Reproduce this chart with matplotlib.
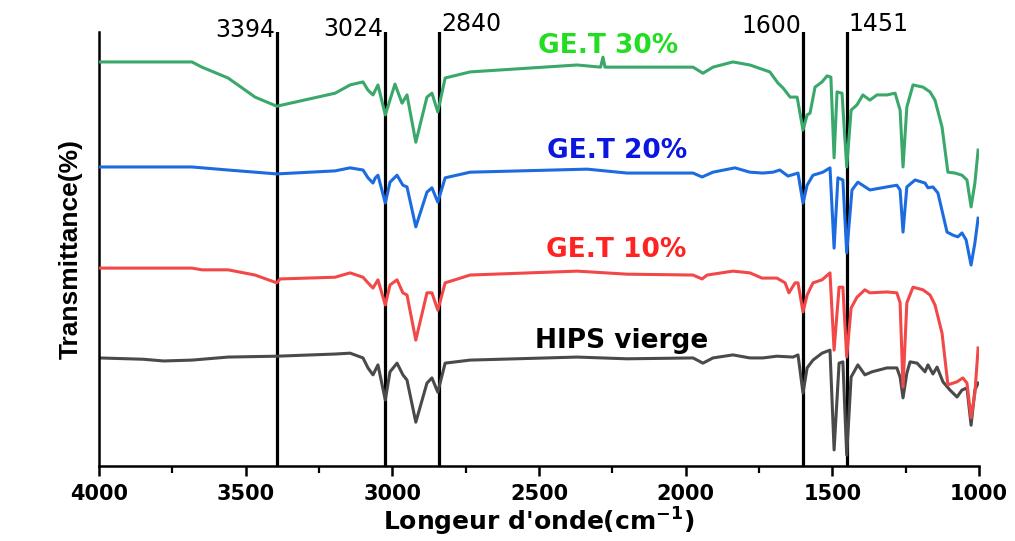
import matplotlib.pyplot as plt
from matplotlib.ticker import MultipleLocator

# Wavenumbers (cm-1) and transmittance (arbitrary offset units)
wn_30 = [4000, 3683, 3649, 3560, 3468, 3394, 3195, 3144, 3100, 3083, 3066, 3049, 3024,
         2991, 2967, 2950, 2920, 2882, 2865, 2845, 2820, 2735, 2370, 2290, 2282, 2275,
         2200, 1975, 1941, 1907, 1839, 1781, 1713, 1685, 1668, 1644, 1620, 1600, 1586,
         1576, 1559, 1535, 1518, 1505, 1494, 1484, 1467, 1451, 1436, 1416, 1396, 1372,
         1348, 1314, 1286, 1269, 1259, 1246, 1225, 1191, 1167, 1150, 1126, 1106, 1082,
         1058, 1041, 1027, 1014, 1003]
t_30 = [93.1, 93.1, 91.9, 89.4, 85.0, 82.9, 85.9, 87.8, 88.5, 86.6, 85.5, 87.8, 80.9,
        88.0, 83.6, 85.5, 74.6, 85.0, 85.9, 81.6, 89.4, 90.8, 92.4, 91.9, 94.2, 91.9,
        91.9, 91.9, 90.5, 91.9, 93.1, 92.4, 90.8, 88.2, 87.1, 85.0, 85.0, 77.4, 80.9,
        81.3, 87.3, 88.5, 89.9, 89.6, 71.0, 86.2, 85.9, 68.9, 82.0, 83.2, 85.5, 84.3,
        85.5, 85.5, 85.9, 82.0, 68.9, 82.7, 87.8, 87.3, 86.2, 84.3, 78.1, 67.7, 67.5,
        67.0, 65.9, 59.7, 65.2, 72.8]

wn_20 = [4000, 3683, 3560, 3394, 3195, 3144, 3100, 3083, 3066, 3058, 3049, 3024, 3008,
         2984, 2964, 2950, 2920, 2882, 2865, 2845, 2820, 2735, 2336, 2200, 1975, 1944,
         1907, 1832, 1781, 1737, 1702, 1679, 1651, 1617, 1600, 1586, 1566, 1532, 1508,
         1494, 1481, 1464, 1451, 1433, 1413, 1372, 1314, 1280, 1269, 1259, 1246, 1218,
         1184, 1174, 1157, 1140, 1109, 1089, 1072, 1058, 1044, 1027, 1014, 1003]
t_20 = [68.9, 68.9, 68.2, 67.3, 68.0, 68.7, 68.2, 66.4, 65.2, 66.4, 67.0, 60.6, 65.4,
        67.0, 64.7, 64.3, 55.1, 63.1, 64.1, 60.8, 66.4, 67.7, 68.4, 67.5, 67.5, 66.6,
        67.7, 68.7, 67.7, 67.5, 67.7, 68.2, 66.8, 67.5, 60.6, 64.7, 67.0, 67.7, 68.7,
        50.2, 66.4, 65.9, 49.1, 63.6, 65.4, 63.6, 64.3, 64.7, 63.6, 53.9, 64.3, 65.9,
        65.2, 64.1, 64.3, 62.9, 53.9, 53.2, 52.8, 53.7, 52.1, 46.3, 51.4, 57.1]

wn_10 = [4000, 3683, 3649, 3560, 3468, 3394, 3383, 3195, 3144, 3100, 3083, 3066, 3049,
         3024, 3008, 2984, 2964, 2950, 2920, 2882, 2865, 2845, 2820, 2735, 2370, 2200,
         1975, 1944, 1927, 1839, 1781, 1740, 1689, 1661, 1648, 1627, 1617, 1600, 1586,
         1566, 1535, 1508, 1494, 1477, 1464, 1451, 1436, 1416, 1389, 1372, 1314, 1280,
         1269, 1259, 1246, 1225, 1191, 1167, 1150, 1126, 1106, 1075, 1055, 1041, 1027,
         1014, 1003]
t_10 = [45.6, 45.6, 45.2, 45.2, 44.0, 42.2, 43.1, 43.5, 44.5, 43.5, 42.2, 41.0, 42.9,
        37.1, 41.7, 42.9, 39.9, 39.4, 29.0, 39.9, 39.9, 35.9, 42.2, 44.0, 44.9, 44.2,
        44.0, 43.1, 44.0, 44.9, 44.5, 43.3, 43.3, 42.2, 39.9, 42.2, 42.2, 35.5, 39.4,
        42.2, 42.9, 44.5, 26.7, 41.2, 41.2, 25.1, 36.4, 38.9, 40.6, 39.9, 40.1, 39.9,
        37.6, 18.2, 37.6, 41.2, 40.6, 39.4, 37.1, 30.6, 18.7, 19.4, 20.3, 19.1, 11.1,
        16.8, 27.2]

wn_0 = [4000, 3850, 3780, 3683, 3560, 3394, 3195, 3144, 3100, 3083, 3066, 3049, 3024,
        3008, 2984, 2964, 2950, 2920, 2882, 2865, 2845, 2820, 2735, 2370, 2200, 1975,
        1941, 1907, 1839, 1781, 1737, 1689, 1634, 1617, 1600, 1586, 1566, 1535, 1508,
        1494, 1477, 1464, 1451, 1436, 1413, 1389, 1365, 1314, 1280, 1269, 1259, 1246,
        1235, 1211, 1184, 1174, 1157, 1143, 1123, 1099, 1075, 1058, 1041, 1027, 1014,
        1003]
t_0 = [24.9, 24.6, 24.2, 24.4, 25.1, 25.3, 25.8, 26.0, 24.9, 22.6, 21.0, 23.3, 15.2,
       21.7, 23.7, 21.0, 19.8, 10.1, 19.1, 20.3, 17.0, 23.7, 24.4, 25.1, 24.7, 24.9,
       23.7, 24.9, 25.6, 24.9, 24.9, 25.3, 25.1, 25.6, 16.8, 22.6, 24.4, 26.0, 26.7,
       3.7, 23.7, 24.0, 2.5, 20.5, 23.3, 21.0, 21.7, 22.6, 22.6, 20.5, 15.7, 21.4,
       24.0, 23.7, 21.7, 23.3, 21.2, 22.8, 19.4, 17.5, 15.9, 17.5, 18.0, 9.4, 17.5,
       19.1]

# Marked peaks: position, label height, alignment
peaks = [3394, 3024, 2840, 1600, 1451]
peak_y = [98.8, 99.1, 100.2, 99.8, 100.2]
peak_ha = ["right", "right", "left", "right", "left"]

# Curve labels
names = ["GE.T 30%", "GE.T 20%", "GE.T 10%", "HIPS vierge"]
name_x = [2265, 2234, 2238, 2217]
name_y = [95.2, 71.0, 48.2, 27.2]
name_colors = ["#22dd22", "#0b16e0", "#ff2222", "black"]

fig = plt.figure(figsize=(10.15, 5.41), dpi=100)
ax = fig.add_axes([99 / 1015, 75 / 541, 880 / 1015, 434 / 541])

for p in peaks:
    ax.axvline(p, color="black", lw=2.3, zorder=1)

ax.plot(wn_0, t_0, color="#4a4a4a", lw=2.2, zorder=2)
ax.plot(wn_10, t_10, color="#f24848", lw=2.2, zorder=3)
ax.plot(wn_20, t_20, color="#1c6be0", lw=2.2, zorder=4)
ax.plot(wn_30, t_30, color="#3aa86a", lw=2.2, zorder=5)

for p, y, ha in zip(peaks, peak_y, peak_ha):
    off = -6 if ha == "right" else 6
    ax.text(p - off, y, str(p), ha=ha, va="baseline", fontsize=17, clip_on=False)

for n, x, y, c in zip(names, name_x, name_y, name_colors):
    ax.text(x, y, n, ha="center", va="baseline", fontsize=19, fontweight="bold", color=c)

ax.set_xlim(4000, 1000)
ax.set_ylim(0, 100)
ax.xaxis.set_major_locator(MultipleLocator(500))
ax.xaxis.set_minor_locator(MultipleLocator(250))
ax.tick_params(axis="x", which="major", length=7, width=1.8, labelsize=15, pad=6)
ax.tick_params(axis="x", which="minor", length=5, width=1.6)
for lab in ax.get_xticklabels():
    lab.set_fontweight("bold")
ax.set_yticks([])

for s in ["top", "right"]:
    ax.spines[s].set_visible(False)
for s in ["left", "bottom"]:
    ax.spines[s].set_linewidth(1.8)

ax.set_xlabel("Longeur d'onde(cm$^{\\mathbf{-1}}$)", fontsize=18, fontweight="bold", labelpad=1)
ax.set_ylabel("Transmittance(%)", fontsize=19, fontweight="bold",
              family=["Liberation Sans Narrow", "Liberation Sans", "DejaVu Sans"], labelpad=12)

fig.savefig("out.png", dpi=100)
